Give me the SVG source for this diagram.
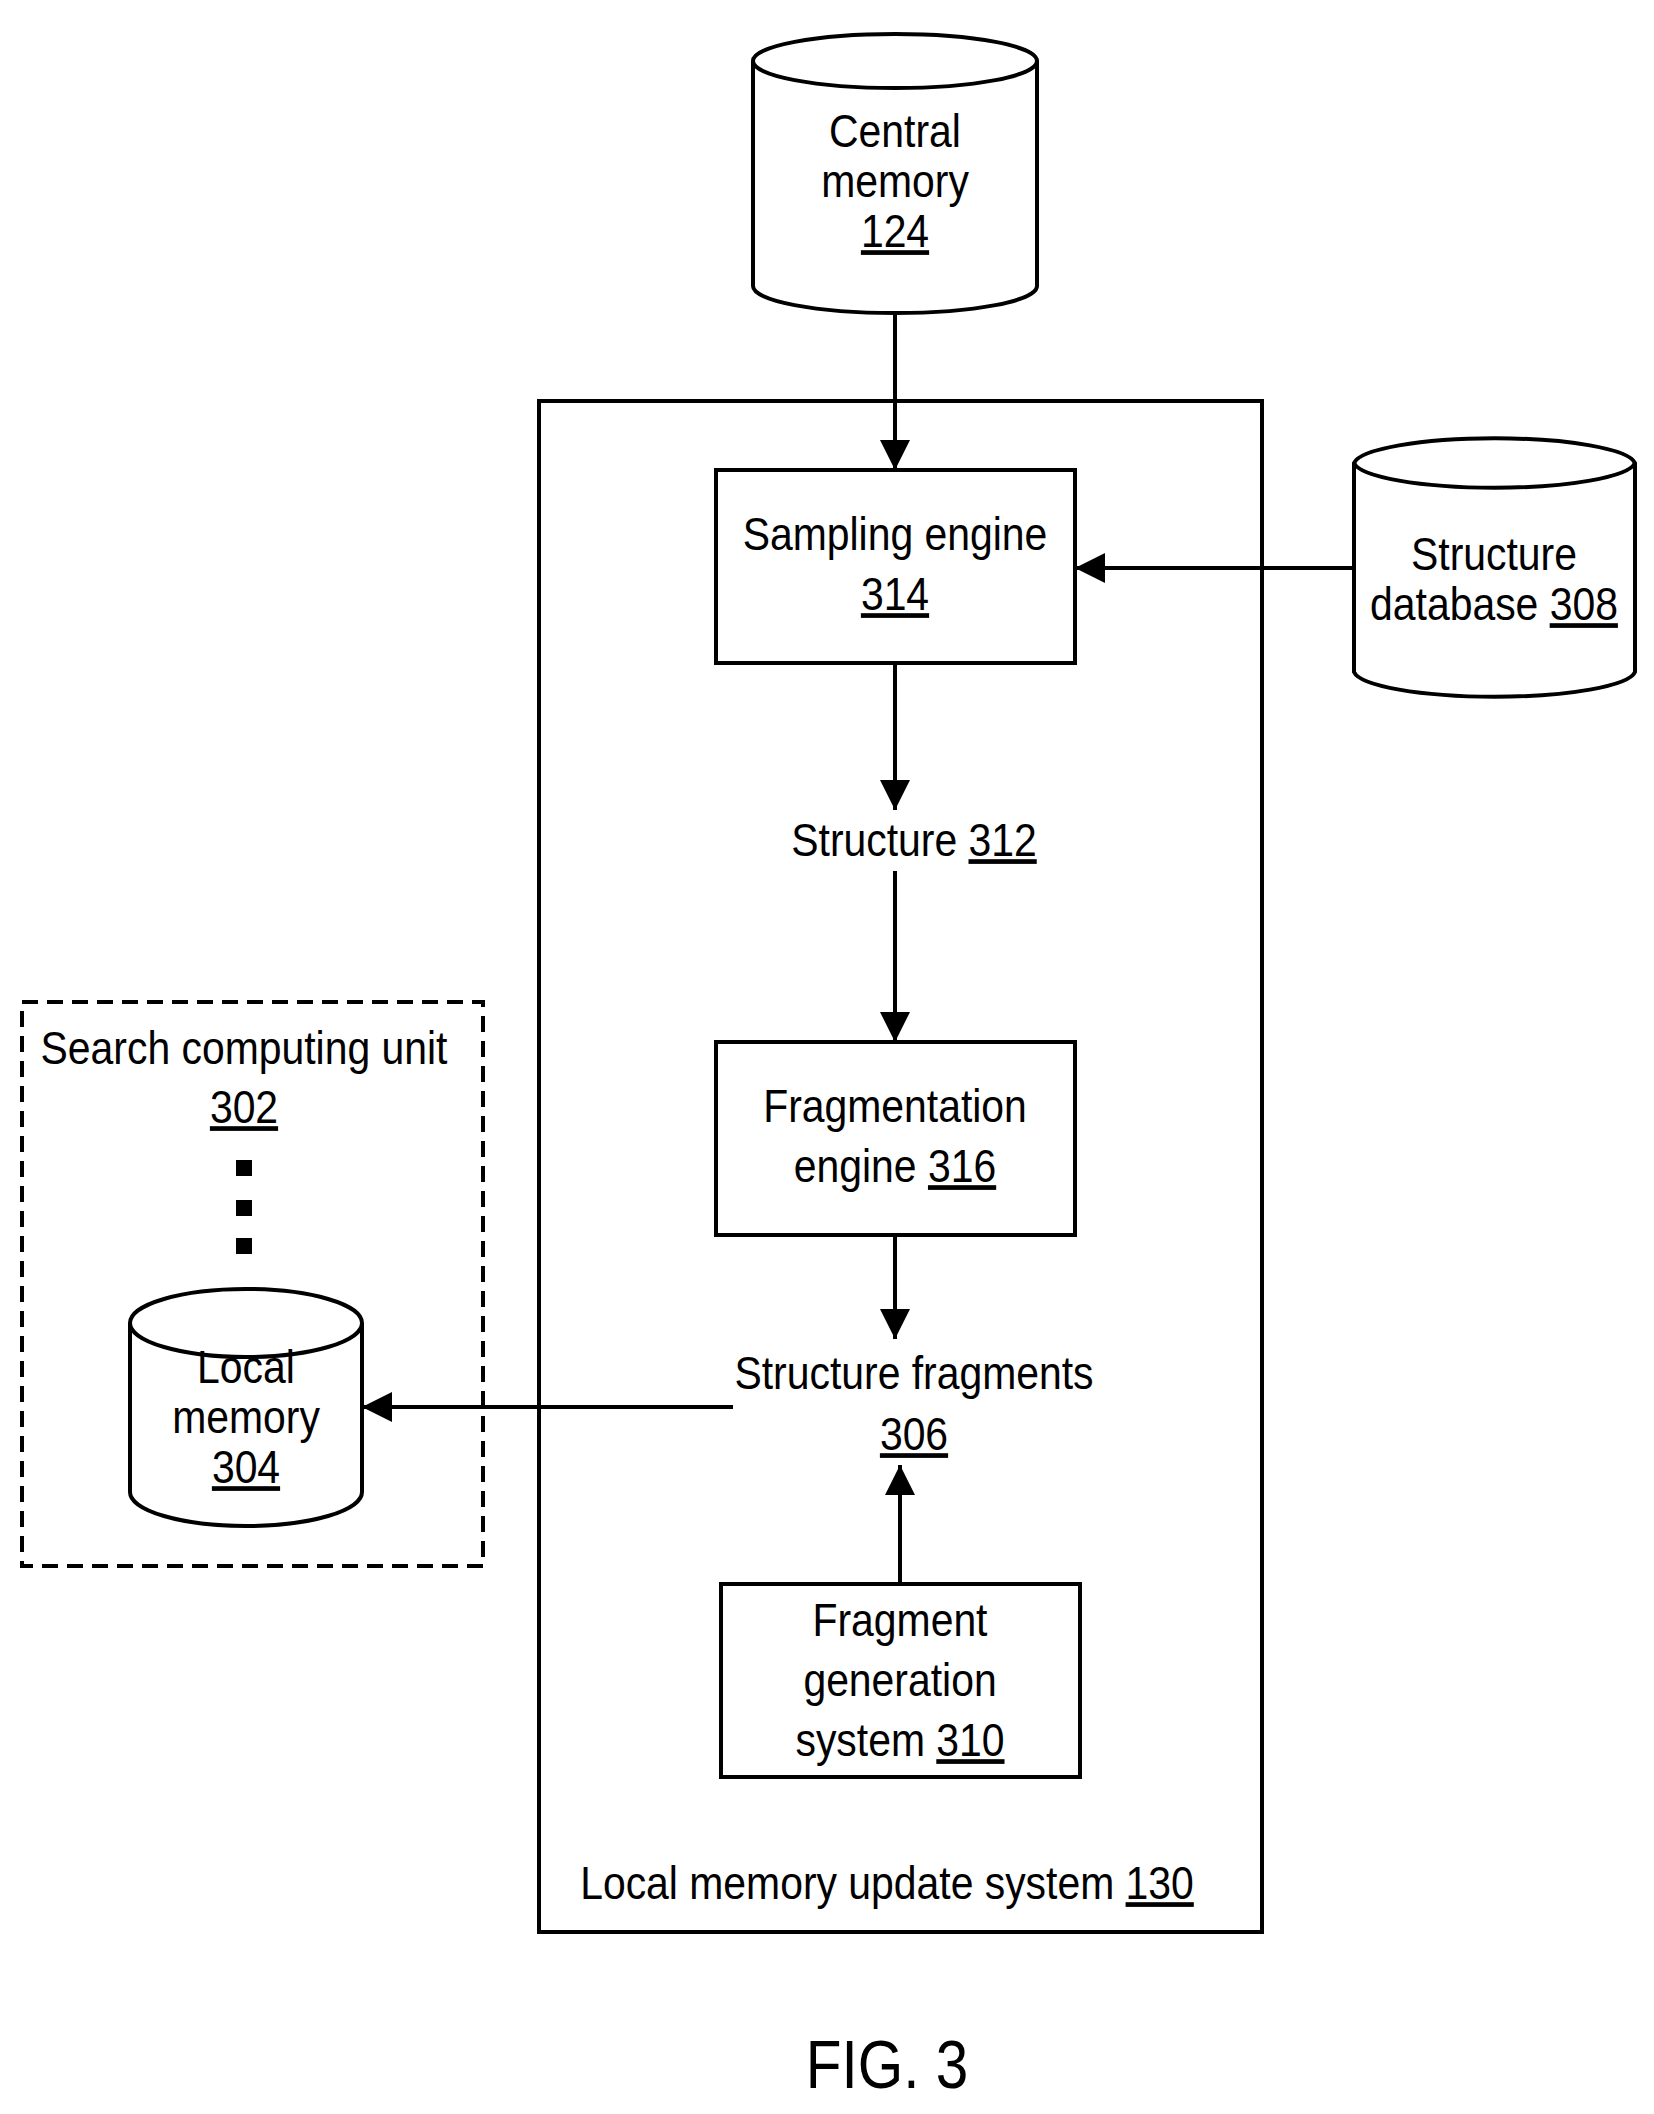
<svg xmlns="http://www.w3.org/2000/svg" width="1654" height="2114" viewBox="0 0 1654 2114">
<style>
.s{fill:#fff;stroke:#000;stroke-width:4}
.t{font-family:"Liberation Sans",Arial,sans-serif;font-size:47px;text-anchor:middle;fill:#000}
.u{text-decoration:underline}
.c{stroke:#000;stroke-width:4;fill:none}
</style>
<defs>
<marker id="ah" viewBox="0 0 10 10" refX="10" refY="5" markerWidth="30" markerHeight="30" markerUnits="userSpaceOnUse" orient="auto"><path d="M0,0L10,5L0,10z" fill="#000"/></marker></defs>
<rect class="s" x="539" y="401" width="723" height="1531"/>
<g id="central"><path class="s" d="M753,61 A142,27 0 0 1 1037,61 V286 A142,27 0 0 1 753,286 Z"/><path class="c" d="M753,61 A142,27 0 0 0 1037,61"/>
<g transform="translate(895,0) scale(0.87,1)"><text class="t" y="147">Central</text><text class="t" y="197">memory</text><text class="t u" y="247">124</text></g></g>
<g id="db"><path class="s" d="M1354,463 A141,27 0 0 1 1635,463 V672 A141,27 0 0 1 1354,672 Z"/><path class="c" d="M1354,463 A141,27 0 0 0 1635,463"/>
<g transform="translate(1494,0) scale(0.87,1)"><text class="t" y="570">Structure</text><text class="t" y="620">database <tspan class="u">308</tspan></text></g></g>
<g id="sampling"><rect class="s" x="716" y="470" width="359" height="193"/><g transform="translate(895,0) scale(0.87,1)"><text class="t" y="550">Sampling engine</text><text class="t u" y="610">314</text></g></g>
<g id="s312" transform="translate(914,0) scale(0.87,1)"><text class="t" y="856">Structure <tspan class="u">312</tspan></text></g>
<g id="frag"><rect class="s" x="716" y="1042" width="359" height="193"/><g transform="translate(895,0) scale(0.87,1)"><text class="t" y="1122">Fragmentation</text><text class="t" y="1182">engine <tspan class="u">316</tspan></text></g></g>
<g id="s306" transform="translate(914,0) scale(0.87,1)"><text class="t" y="1389">Structure fragments</text><text class="t u" y="1450">306</text></g>
<g id="gen"><rect class="s" x="721" y="1584" width="359" height="193"/><g transform="translate(900,0) scale(0.87,1)"><text class="t" y="1636">Fragment</text><text class="t" y="1696">generation</text><text class="t" y="1756">system <tspan class="u">310</tspan></text></g></g>
<g id="scu"><rect x="22" y="1002" width="461" height="564" fill="none" stroke="#000" stroke-width="4" stroke-dasharray="16,9"/>
<g transform="translate(244,0) scale(0.87,1)"><text class="t" y="1064">Search computing unit</text><text class="t u" y="1123">302</text></g>
<rect x="236" y="1160" width="16" height="16"/><rect x="236" y="1200" width="16" height="16"/><rect x="236" y="1238" width="16" height="16"/></g>
<g id="local"><path class="s" d="M130,1323 A116,34 0 0 1 362,1323 V1492 A116,34 0 0 1 130,1492 Z"/><path class="c" d="M130,1323 A116,34 0 0 0 362,1323"/>
<g transform="translate(246,0) scale(0.87,1)"><text class="t" y="1383">Local</text><text class="t" y="1433">memory</text><text class="t u" y="1483">304</text></g></g>
<g transform="translate(887,0) scale(0.87,1)"><text class="t" y="1899">Local memory update system <tspan class="u">130</tspan></text></g>
<g transform="translate(887,0) scale(0.86,1)"><text class="t" y="2088" style="font-size:68px">FIG. 3</text></g>
<g id="connectors" class="c" marker-end="url(#ah)">
<line x1="895" y1="313" x2="895" y2="470"/>
<line x1="1354" y1="568" x2="1075" y2="568"/>
<line x1="895" y1="663" x2="895" y2="810"/>
<line x1="895" y1="871" x2="895" y2="1042"/>
<line x1="895" y1="1235" x2="895" y2="1339"/>
<line x1="900" y1="1584" x2="900" y2="1465"/>
<line x1="733" y1="1407" x2="362" y2="1407"/>
</g>
</svg>
